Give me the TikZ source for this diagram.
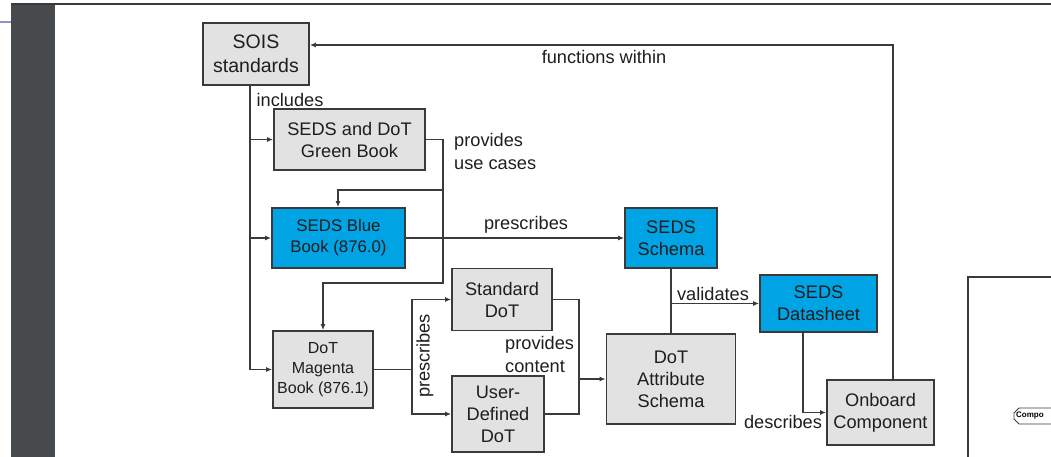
\documentclass[tikz,border=0pt]{standalone}
\usepackage{fontspec}
\setmainfont{Liberation Sans}
\usetikzlibrary{arrows.meta,positioning,calc}
\definecolor{boxgray}{HTML}{E2E2E2}
\definecolor{boxblue}{HTML}{00A3E4}
\definecolor{linegray}{HTML}{3A3A3A}
\definecolor{bardark}{HTML}{464A4D}
\definecolor{purpleline}{HTML}{9090D0}
\definecolor{txt}{HTML}{1E1E1E}
\tikzset{
  box/.style={draw=linegray, line width=1.7pt, fill=boxgray, align=center, inner sep=0pt,
    text=txt, font=\fontsize{18.2}{22}\selectfont},
  bluebox/.style={box, fill=boxblue},
  conn/.style={draw=linegray, line width=1.4pt},
  arr/.style={conn, -{Latex[length=6pt,width=5pt]}},
  lbl/.style={text=txt, font=\fontsize{18.2}{22.5}\selectfont, inner sep=0pt}
}
\begin{document}
\begin{tikzpicture}[x=1pt,y=-1pt]
\useasboundingbox (0,0) rectangle (1051,457);
\begin{scope}
\clip (0,0) rectangle (1051,457);
% screenshot frame artifacts
\fill[bardark] (11,3) rectangle (55,457);
\draw[line width=2pt, color=linegray] (11,4) -- (1051,4);
\draw[line width=1.5pt, color=purpleline] (0,22) -- (11,22);
\draw[line width=1.6pt, color=linegray] (968,457) -- (968,277) -- (1052,277);
\draw[line width=0.8pt, color=linegray, fill=white] (1053,408) -- (1019,408) -- (1014,413) -- (1014,419) -- (1019,424) -- (1053,424);
\node[anchor=west, inner sep=0pt, font=\fontsize{8}{9}\selectfont\bfseries] (compo) at (1016,416) {Compo};
\end{scope}

% nodes
\node[box, minimum width=106pt, minimum height=62pt, font=\fontsize{19.5}{24}\selectfont] (sois) at (256,54) {SOIS\\standards};
\node[box, minimum width=151pt, minimum height=61pt] (green) at (349.5,139.5) {SEDS and DoT\\Green Book};
\node[bluebox, minimum width=133pt, minimum height=60pt, font=\fontsize{16.8}{21}\selectfont] (blue) at (338.5,238) {SEDS Blue\\Book (876.0)};
\node[bluebox, minimum width=92pt, minimum height=60pt] (schema) at (671,238) {SEDS\\Schema};
\node[box, minimum width=100pt, minimum height=62pt] (std) at (502,299.5) {Standard\\DoT};
\node[box, minimum width=100pt, minimum height=77pt, font=\fontsize{16}{20}\selectfont] (magenta) at (323,369.5) {DoT\\Magenta\\Book (876.1)};
\node[box, minimum width=92pt, minimum height=76pt] (user) at (498,414) {User-\\Defined\\DoT};
\node[box, minimum width=129pt, minimum height=90pt] (attr) at (671,379) {DoT\\Attribute\\Schema};
\node[bluebox, minimum width=117pt, minimum height=57pt] (datasheet) at (818.5,303.5) {SEDS\\Datasheet};
\node[box, minimum width=107pt, minimum height=65pt] (onboard) at (880.5,412.5) {Onboard\\Component};

% functions within
\draw[arr] ([xshift=12.5pt]onboard.north) |- ([yshift=9pt]sois.east);
\node[lbl] (lfunc) at (604,57) {functions within};

% includes
\coordinate (trunk) at ([xshift=-6pt]sois.south);
\draw[arr] (trunk) |- (magenta.west);
\draw[arr] (trunk |- green.west) -- (green.west);
\draw[arr] (trunk |- blue.west) -- (blue.west);
\node[lbl] (lincl) at (290,100) {includes};

% provides use cases
\coordinate (gj) at (443,283);
\coordinate (gb) at (443,190);
\draw[arr] (green.east) -| (gj) -| (magenta.north);
\draw[arr] (gb) -| ([xshift=-0.5pt]blue.north);
\node[lbl, anchor=west, align=left] (luse) at (454,151.5) {provides\\use cases};

% prescribes (blue -> schema)
\draw[arr] (blue.east) -- (schema.west);
\node[lbl] (lpres) at (526,225) {prescribes};

% magenta prescribes
\coordinate (mj) at (412,369.5);
\draw[conn] (magenta.east) -- (mj);
\draw[arr] (mj) |- (std.west);
\draw[arr] (mj) |- (user.west);
\node[lbl, rotate=90] (lpres2) at (425,356) {prescribes};

% provides content
\coordinate (sx) at (579,379);
\draw[conn] (std.east) -| (sx) |- (user.east);
\draw[arr] (sx) -- (attr.west);
\node[lbl, anchor=west, align=left] (lcont) at (505,354.5) {provides\\content};

% validates
\draw[conn] (schema.south) -- (attr.north);
\draw[arr] (schema.south |- datasheet.west) -- (datasheet.west);
\node[lbl] (lval) at (713,294) {validates};

% describes
\draw[arr] ([xshift=-15.5pt]datasheet.south) |- (onboard.west);
\node[lbl] (ldesc) at (783,422) {describes};
\end{tikzpicture}
\end{document}
